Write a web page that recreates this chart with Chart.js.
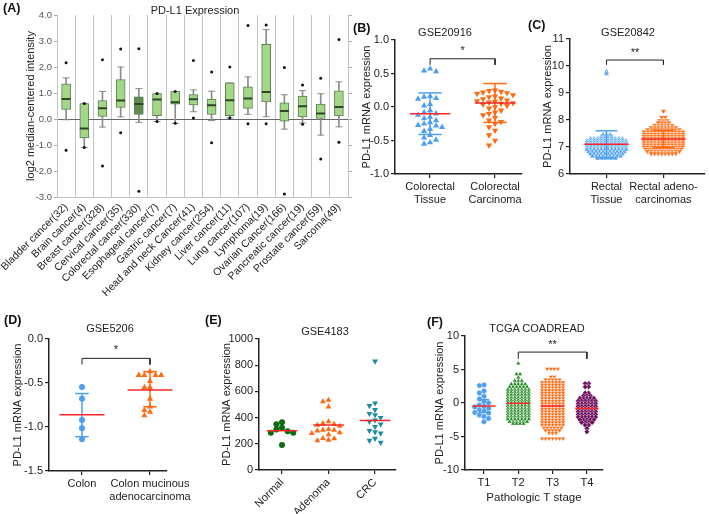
<!DOCTYPE html>
<html>
<head>
<meta charset="utf-8">
<script src="https://cdn.jsdelivr.net/npm/chart.js@4.4.0/dist/chart.umd.min.js"></script>
<style>
  body { margin: 0; background: #fff; font-family: "Liberation Sans", Arial, sans-serif; }
  #fig { position: relative; width: 709px; height: 514px; overflow: hidden; background: #fff; }
  canvas { position: absolute; }
  .lbl { position: absolute; font-size: 12.5px; font-weight: bold; color: #111; transform: translateY(-50%); }
  .ttl { position: absolute; font-size: 11px; color: #222; transform: translate(-50%, -50%); white-space: nowrap; }
</style>
</head>
<body>
<div id="fig"></div>
<script>
// ---- (A) PD-L1 expression box plot ----
const aCats = ['Bladder cancer(32)', 'Brain cancer(4)', 'Breast cancer(328)', 'Cervical cancer(35)',
  'Colorectal cancer(330)', 'Esophageal cancer(7)', 'Gastric cancer(7)', 'Head and neck Cancer(41)',
  'Kidney cancer(254)', 'Liver cancer(11)', 'Lung cancer(107)', 'Lymphoma(19)', 'Ovarian Cancer(166)',
  'Pancreatic cancer(19)', 'Prostate cancer(59)', 'Sarcoma(49)'];
const aWhiskerHi = [1.58, 0.6, 1.06, 2.0, 1.17, 0.98, 1.06, 1.12, 1.07, 1.39, 1.62, 3.44, 0.93, 1.09, 0.97, 1.43];
const aQ3 = [1.35, 0.59, 0.71, 1.52, 0.85, 0.98, 1.06, 0.94, 0.77, 1.39, 1.24, 2.87, 0.62, 0.88, 0.57, 1.08];
const aMedian = [0.77, -0.37, 0.41, 0.71, 0.58, 0.75, 0.64, 0.76, 0.53, 0.72, 0.79, 1.04, 0.31, 0.49, 0.21, 0.46];
const aQ1 = [0.37, -0.73, 0.10, 0.45, 0.18, 0.13, 0.57, 0.54, 0.18, 0.13, 0.41, 0.66, -0.08, 0.08, 0.0, 0.12];
const aWhiskerLo = [-0.03, -1.09, -0.31, 0.08, -0.13, -0.1, -0.17, 0.28, -0.06, 0.04, 0.18, 0.09, -0.39, -0.15, -0.62, -0.30];
const aOutHi = [2.16, 0.6, 2.28, 2.69, 2.70, 0.98, 1.06, 2.25, 1.81, 2.0, 3.6, 3.62, 1.98, 1.31, 1.57, 3.06];
const aOutLo = [-1.2, -1.1, -1.81, -0.53, -2.78, -0.1, -0.16, 0.04, -0.91, 0.04, -0.18, -0.18, -2.88, -0.2, -1.54, -0.89];

// ---- (B) GSE20916 ----
const bTissue = [0.57, 0.54, 0.53, 0.16, 0.15, 0.13, 0.12, 0.04, 0.02, -0.05, -0.08, -0.1, -0.12, -0.15,
  -0.17, -0.2, -0.23, -0.25, -0.27, -0.28, -0.3, -0.33, -0.36, -0.42, -0.46, -0.49, -0.53, -0.55];
const bCarcinoma = [0.25, 0.24, 0.23, 0.22, 0.21, 0.2, 0.18, 0.16, 0.15, 0.13, 0.12, 0.1, 0.09, 0.08, 0.07,
  0.06, 0.05, 0.04, 0.02, 0.0, -0.02, -0.05, -0.08, -0.1, -0.12, -0.16, -0.2, -0.22, -0.25, -0.3, -0.35,
  -0.42, -0.5, -0.57];
const bMeans = [-0.10, 0.06];
const bSdHi = [0.21, 0.35];
const bSdLo = [-0.41, -0.23];
const bBracket = [0.63, 0.72];
const bStarY = 0.84;

// ---- (C) GSE20842 (rows of points: level + count) ----
const cTissueLevels = [9.8, 9.72, 7.45, 7.38, 7.3, 7.22, 7.14, 7.06, 6.98, 6.9, 6.82, 6.74, 6.66, 6.58];
const cTissueCounts = [1, 1, 3, 4, 10, 12, 12, 12, 12, 12, 11, 10, 9, 6];
const cCarcLevels = [8.33, 8.1, 7.98, 7.9, 7.8, 7.72, 7.64, 7.56, 7.48, 7.4, 7.32, 7.24, 7.16, 7.08, 7.0, 6.92, 6.84, 6.76];
const cCarcCounts = [1, 2, 3, 4, 6, 8, 10, 12, 12, 12, 12, 12, 12, 12, 12, 11, 10, 8];
const cMeans = [7.1, 7.3];
const cSdHi = [7.6, 7.62];
const cSdLo = [6.6, 6.98];
const cBracket = [10.04, 10.22];
const cStarY = 10.48;

// ---- (D) GSE5206 ----
const dColon = [-0.545, -0.68, -0.92, -1.015, -1.14];
const dMucinous = [-0.37, -0.41, -0.41, -0.41, -0.41, -0.48, -0.55, -0.55, -0.68, -0.77, -0.81, -0.83, -0.87];
const dMeans = [-0.86, -0.58];
const dSdHi = [-0.62, -0.37];
const dSdLo = [-1.11, -0.77];
const dBracket = [-0.29, -0.22];
const dStarY = -0.12;

// ---- (E) GSE4183 ----
const eNormal = [364, 349, 323, 310, 295, 285, 285, 191];
const eAdenoma = [534, 522, 483, 369, 356, 350, 343, 335, 310, 305, 305, 300, 285, 280, 270, 242, 240, 229, 225];
const eCRC = [830, 510, 490, 460, 430, 420, 400, 380, 370, 350, 330, 300, 290, 280, 240, 225, 210];
const eMeans = [300, 343, 378];

// ---- (F) TCGA COADREAD ----
const fT1 = [2.7, 2.6, 1.8, 1.5, 1.0, 0.6, 0.2, 0.0, -0.3, -0.5, -0.6, -0.8, -1.0, -1.2, -1.4, -1.5, -1.8, -2.0, -2.3, -2.8];
const fT2Levels = [5.9, 4.3, 3.8, 3.3, 2.8, 2.4, 2.0, 1.6, 1.2, 0.8, 0.4, 0.0, -0.4, -0.8, -1.2, -1.6, -2.0, -2.4, -2.8, -3.1];
const fT2Counts = [1, 2, 1, 3, 5, 6, 7, 7, 7, 7, 7, 7, 7, 7, 7, 7, 7, 7, 6, 4];
const fT3Levels = [5.1, 3.9, 3.5, 3.1, 2.7, 2.3, 1.9, 1.5, 1.1, 0.7, 0.3, -0.1, -0.5, -0.9, -1.3, -1.7, -2.1, -2.5, -2.9, -3.3, -3.7, -4.1, -4.5, -5.3];
const fT3Counts = [4, 2, 5, 7, 7, 7, 7, 7, 7, 7, 7, 7, 7, 7, 7, 7, 7, 7, 7, 7, 6, 5, 3, 7];
const fT4Levels = [2.9, 2.4, 1.5, 1.1, 0.7, 0.3, -0.1, -0.5, -0.9, -1.3, -1.7, -2.1, -2.5, -2.9, -3.3, -3.8, -4.3];
const fT4Counts = [2, 2, 2, 3, 5, 6, 6, 6, 6, 6, 6, 6, 5, 4, 2, 1, 1];
const fMeans = [-0.45, -0.05, -0.45, -0.8];
const fT1Sd = [0.5, -1.4];
const fBracket = [6.6, 7.6];
const fStarY = 8.6;

// ---- styling ----
const FONT = '"Liberation Sans", Arial, sans-serif';
const BLUE = '#4d9ff2', ORANGE = '#ff6a12', RED = '#ff2626';
Chart.defaults.font.family = FONT;
Chart.defaults.color = '#222';
Chart.defaults.animation = false;
Chart.defaults.plugins.legend.display = false;
Chart.defaults.plugins.tooltip.enabled = false;

const fig = document.getElementById('fig');

// text drawn at data coordinates (significance stars)
Chart.register({
  id: 'note',
  afterDatasetsDraw(chart, args, opts) {
    if (!opts || !opts.text) return;
    const { ctx, scales } = chart;
    ctx.save();
    ctx.font = '11px ' + FONT;
    ctx.fillStyle = '#222';
    ctx.textAlign = 'center';
    ctx.textBaseline = 'middle';
    ctx.fillText(opts.text, scales.x.getPixelForValue(opts.x), scales.y.getPixelForValue(opts.y));
    ctx.restore();
  }
});

function addText(cls, text, x, y) {
  const d = document.createElement('div');
  d.className = cls;
  d.textContent = text;
  d.style.left = x + 'px';
  d.style.top = y + 'px';
  fig.appendChild(d);
}

function addCanvas(g) {
  const c = document.createElement('canvas');
  c.width = g.w; c.height = g.h;
  c.style.left = g.x + 'px'; c.style.top = g.y + 'px';
  c.style.width = g.w + 'px'; c.style.height = g.h + 'px';
  fig.appendChild(c);
  return c;
}

const fixWidth = w => s => { s.width = w; s.paddingTop = 0; s.paddingBottom = 0; };
const fixHeight = h => s => { s.height = h; s.paddingLeft = 0; s.paddingRight = 0; };

function expand(levels, counts) {
  const out = [];
  levels.forEach((v, i) => { for (let k = 0; k < counts[i]; k++) out.push(v); });
  return out;
}

// simple beeswarm: spread points sideways so markers do not sit on each other
function swarm(values, sepPx, rowTolPx, xppu, yppu, centerRows) {
  const placed = [];
  const sorted = values.slice().sort((a, b) => b - a);
  sorted.forEach(v => {
    const py = v * yppu;
    for (let k = 0; k < 400; k++) {
      const dxPx = (k % 2 ? -1 : 1) * Math.ceil(k / 2) * sepPx;
      const hit = placed.some(p => Math.abs(p.py - py) < rowTolPx && Math.abs(p.dxPx - dxPx) < sepPx * 0.95);
      if (!hit) { placed.push({ v, py, dxPx }); break; }
    }
  });
  if (centerRows) {
    const rows = {};
    placed.forEach(p => { (rows[p.v] = rows[p.v] || []).push(p); });
    Object.values(rows).forEach(r => {
      const m = r.reduce((s, p) => s + p.dxPx, 0) / r.length;
      r.forEach(p => { p.dxPx -= m; });
    });
  }
  return placed.map(p => ({ dx: p.dxPx / xppu, y: p.v }));
}

function seg(points, color, width, order) {
  return {
    type: 'scatter', showLine: true, data: points.map(p => ({ x: p[0], y: p[1] })),
    borderColor: color, borderWidth: width, pointRadius: 0, order: order, clip: false
  };
}

function dotPanel(g, o) {
  const canvas = addCanvas(g);
  const xppu = (g.cr - g.cl) / (o.xMax - o.xMin);
  const yppu = (g.cb - g.ct) / (o.yMax - o.yMin);
  const datasets = [];
  o.groups.forEach((gr, i) => {
    const cx = i + 1;
    const sep = gr.sep || o.sep;
    const rowTol = gr.rowTol || o.rowTol;
    const center = gr.centerRows != null ? gr.centerRows : o.centerRows;
    const pts = swarm(gr.values, sep, rowTol, xppu, yppu, center)
      .map(p => ({ x: cx + p.dx, y: p.y }));
    datasets.push({
      type: 'scatter', data: pts, pointStyle: gr.style, rotation: gr.rot || 0,
      pointRadius: gr.radius || o.radius, backgroundColor: gr.color,
      borderColor: o.pointBorder || gr.color, borderWidth: o.pointBorderWidth || 0,
      order: 3, clip: false
    });
    if (gr.sdHi != null) {
      const w = o.capW;
      datasets.push(seg([[cx, gr.sdLo], [cx, gr.sdHi]], gr.color, 1.5, 2));
      datasets.push(seg([[cx - w, gr.sdHi], [cx + w, gr.sdHi]], gr.color, 1.5, 2));
      datasets.push(seg([[cx - w, gr.sdLo], [cx + w, gr.sdLo]], gr.color, 1.5, 2));
    }
    if (gr.mean != null) {
      datasets.push(seg([[cx - o.meanW, gr.mean], [cx + o.meanW, gr.mean]], RED, 1.5, 1));
    }
  });
  if (o.bracket) {
    const [a, b] = o.bracket.between;
    const [lo, hi] = o.bracket.y;
    datasets.push(seg([[a, lo], [a, hi], [b, hi], [b, lo]], '#222', 1, 0));
  }
  const yTitleFont = 11;
  new Chart(canvas, {
    type: 'scatter',
    data: { datasets },
    options: {
      responsive: false,
      layout: { padding: { left: 0, bottom: 0, top: g.ct - g.y, right: g.x + g.w - g.cr } },
      scales: {
        x: {
          type: 'linear', min: o.xMin, max: o.xMax,
          afterBuildTicks: s => { s.ticks = o.xLabels.map((_, i) => ({ value: i + 1 })); },
          ticks: {
            autoSkip: false, font: { size: 11 }, color: '#222', padding: 2,
            maxRotation: o.xRot || 0, minRotation: o.xRot || 0,
            callback: v => o.xLabels[Math.round(v) - 1]
          },
          grid: { drawOnChartArea: false, drawTicks: true, tickLength: 4, color: '#222', lineWidth: 1.2 },
          border: { display: true, color: '#222', width: 1.5 },
          title: o.xTitle ? {
            display: true, text: o.xTitle, font: { size: 11.5 }, color: '#222',
            padding: { top: 0, bottom: (g.y + g.h) - o.xTitleY - 6.9 }
          } : { display: false },
          afterFit: fixHeight(g.y + g.h - g.cb)
        },
        y: {
          min: o.yMin, max: o.yMax,
          ticks: {
            stepSize: o.yStep, font: { size: 11 }, color: '#222', padding: 2,
            callback: v => v.toFixed(o.dec)
          },
          grid: { drawOnChartArea: false, drawTicks: true, tickLength: 4, color: '#222', lineWidth: 1.2 },
          border: { display: true, color: '#222', width: 1.5 },
          title: {
            display: true, text: 'PD-L1 mRNA expression', font: { size: yTitleFont }, color: '#222',
            padding: { top: o.yTitleX - g.x - yTitleFont * 0.6, bottom: 0 }
          },
          afterFit: fixWidth(g.cl - g.x)
        }
      },
      plugins: { note: o.note }
    }
  });
}

// ---- panel A ----
(function () {
  const g = { x: 0, y: 0, w: 358, h: 322, cl: 57, cr: 348, ct: 15, cb: 197 };
  const canvas = addCanvas(g);
  const boxFill = aCats.map((_, i) => i === 4 ? '#5e8c4e' : '#a2d788');
  new Chart(canvas, {
    type: 'bar',
    data: {
      labels: aCats,
      datasets: [
        { type: 'bar', data: aWhiskerLo.map((v, i) => [v, aWhiskerHi[i]]), backgroundColor: '#8c8c8c',
          barThickness: 1, grouped: false, order: 4 },
        { type: 'bar', data: aQ1.map((v, i) => [v, aQ3[i]]), backgroundColor: boxFill, borderColor: '#5f7f52',
          borderWidth: 1, borderSkipped: false, barThickness: 9, grouped: false, order: 3 },
        { type: 'line', data: aWhiskerHi, showLine: false, pointStyle: 'line', pointRadius: 3.5,
          borderColor: '#8c8c8c', borderWidth: 1, order: 2 },
        { type: 'line', data: aWhiskerLo, showLine: false, pointStyle: 'line', pointRadius: 3.5,
          borderColor: '#8c8c8c', borderWidth: 1, order: 2 },
        { type: 'line', data: aMedian, showLine: false, pointStyle: 'line', pointRadius: 4.5,
          borderColor: '#2c4626', borderWidth: 2, order: 1 },
        { type: 'line', data: aOutHi, showLine: false, pointStyle: 'circle', pointRadius: 1.5,
          backgroundColor: '#111', borderWidth: 0, order: 0 },
        { type: 'line', data: aOutLo, showLine: false, pointStyle: 'circle', pointRadius: 1.5,
          backgroundColor: '#111', borderWidth: 0, order: 0 }
      ]
    },
    options: {
      responsive: false,
      layout: { padding: { left: 0, bottom: 0, top: g.ct - g.y, right: g.x + g.w - g.cr - 8 } },
      scales: {
        x: {
          offset: true,
          grid: { offset: true, color: '#c4c4c4', drawTicks: false },
          border: { color: '#c4c4c4' },
          ticks: { autoSkip: false, maxRotation: 45, minRotation: 45, font: { size: 10.5 }, color: '#222', padding: 4 },
          afterFit: fixHeight(g.y + g.h - g.cb)
        },
        y: {
          min: -3, max: 4,
          ticks: { stepSize: 0.5, font: { size: 9.5 }, color: '#555', padding: 2, callback: v => v.toFixed(1) },
          grid: {
            color: c => (c.tick && Math.abs(c.tick.value) < 1e-9) ? '#666' : 'rgba(0,0,0,0)',
            tickColor: '#aaa', tickLength: 3
          },
          border: { color: '#c4c4c4' },
          title: { display: true, text: 'log2 median-centered intensity', font: { size: 11 }, color: '#222',
            padding: { top: 31 - g.x - 6.6, bottom: 0 } },
          afterFit: fixWidth(g.cl - g.x)
        },
        y2: {
          position: 'right', min: -3, max: 4,
          ticks: { stepSize: 0.5, callback: () => '' },
          grid: { drawOnChartArea: false, tickLength: 4, color: '#aaa' },
          border: { color: '#c4c4c4' },
          afterFit: fixWidth(8)
        }
      }
    }
  });
})();

// ---- panel B ----
dotPanel({ x: 354, y: 20, w: 176, h: 200, cl: 395, cr: 522, ct: 40, cb: 174 }, {
  xMin: 0.46, xMax: 2.415, yMin: -1, yMax: 1, yStep: 0.5, dec: 1, yTitleX: 367,
  xLabels: [['Colorectal', 'Tissue'], ['Colorectal', 'Carcinoma']],
  sep: 6, rowTol: 5, radius: 3.6, meanW: 0.31, capW: 0.18,
  groups: [
    { values: bTissue, color: BLUE, style: 'triangle', mean: bMeans[0], sdHi: bSdHi[0], sdLo: bSdLo[0] },
    { values: bCarcinoma, color: ORANGE, style: 'triangle', rot: 180, mean: bMeans[1], sdHi: bSdHi[1], sdLo: bSdLo[1] }
  ],
  bracket: { between: [1, 2], y: bBracket },
  note: { text: '*', x: 1.5, y: bStarY }
});

// ---- panel C ----
dotPanel({ x: 534, y: 20, w: 175, h: 200, cl: 570, cr: 707, ct: 39, cb: 174 }, {
  xMin: 0.36, xMax: 2.72, yMin: 6, yMax: 11, yStep: 1, dec: 0, yTitleX: 548,
  xLabels: [['Rectal', 'Tissue'], ['Rectal adeno-', 'carcinomas']],
  sep: 3.6, rowTol: 1, centerRows: true, radius: 3.2, meanW: 0.39, capW: 0.19,
  pointBorder: '#fff', pointBorderWidth: 0.5,
  groups: [
    { values: expand(cTissueLevels, cTissueCounts), color: BLUE, style: 'triangle', mean: cMeans[0], sdHi: cSdHi[0], sdLo: cSdLo[0] },
    { values: expand(cCarcLevels, cCarcCounts), color: ORANGE, style: 'triangle', rot: 180, mean: cMeans[1], sdHi: cSdHi[1], sdLo: cSdLo[1] }
  ],
  bracket: { between: [1, 2], y: cBracket },
  note: { text: '**', x: 1.5, y: cStarY }
});

// ---- panel D ----
dotPanel({ x: 6, y: 325, w: 194, h: 185, cl: 49, cr: 167, ct: 339, cb: 471 }, {
  xMin: 0.515, xMax: 2.25, yMin: -1.5, yMax: 0, yStep: 0.5, dec: 1, yTitleX: 18,
  xLabels: [['Colon'], ['Colon mucinous', 'adenocarcinoma']],
  sep: 5.6, rowTol: 5, radius: 3.2, meanW: 0.33, capW: 0.1,
  groups: [
    { values: dColon, color: BLUE, style: 'circle', radius: 3, mean: dMeans[0], sdHi: dSdHi[0], sdLo: dSdLo[0] },
    { values: dMucinous, color: ORANGE, style: 'triangle', radius: 3.6, mean: dMeans[1], sdHi: dSdHi[1], sdLo: dSdLo[1] }
  ],
  bracket: { between: [1, 2], y: dBracket },
  note: { text: '*', x: 1.5, y: dStarY }
});

// ---- panel E ----
dotPanel({ x: 214, y: 325, w: 186, h: 189, cl: 259, cr: 396, ct: 339, cb: 470 }, {
  xMin: 0.505, xMax: 3.45, yMin: 0, yMax: 1000, yStep: 200, dec: 0, yTitleX: 227,
  xLabels: ['Normal', 'Adenoma', 'CRC'], xRot: 45,
  sep: 5.6, rowTol: 5, radius: 3.4, meanW: 0.33,
  groups: [
    { values: eNormal, color: '#0d6a10', style: 'circle', radius: 3, mean: eMeans[0] },
    { values: eAdenoma, color: ORANGE, style: 'triangle', mean: eMeans[1] },
    { values: eCRC, color: '#1b8aa5', style: 'triangle', rot: 180, mean: eMeans[2] }
  ]
});

// ---- panel F ----
dotPanel({ x: 428, y: 325, w: 190, h: 189, cl: 465, cr: 603, ct: 336, cb: 470 }, {
  xMin: 0.446, xMax: 4.47, yMin: -10, yMax: 10, yStep: 5, dec: 0, yTitleX: 440,
  xLabels: ['T1', 'T2', 'T3', 'T4'], xTitle: 'Pathologic T stage', xTitleY: 498,
  sep: 3.5, rowTol: 1, centerRows: true, radius: 2.7, meanW: 0.34, capW: 0.15,
  pointBorder: '#fff', pointBorderWidth: 0.4,
  groups: [
    { values: fT1, color: BLUE, style: 'circle', sep: 4.6, rowTol: 4.2, centerRows: false,
      mean: fMeans[0], sdHi: fT1Sd[0], sdLo: fT1Sd[1] },
    { values: expand(fT2Levels, fT2Counts), color: '#1f8a1f', style: 'triangle', mean: fMeans[1] },
    { values: expand(fT3Levels, fT3Counts), color: ORANGE, style: 'triangle', rot: 180, mean: fMeans[2] },
    { values: expand(fT4Levels, fT4Counts), color: '#6a0c5c', style: 'rectRot', mean: fMeans[3] }
  ],
  bracket: { between: [2, 4], y: fBracket },
  note: { text: '**', x: 3, y: fStarY }
});

// ---- panel letters and titles ----
addText('lbl', '(A)', 3, 8);
addText('ttl', 'PD-L1 Expression', 195, 10);
addText('lbl', '(B)', 353, 28);
addText('ttl', 'GSE20916', 445, 32);
addText('lbl', '(C)', 528, 25);
addText('ttl', 'GSE20842', 628, 32);
addText('lbl', '(D)', 4, 320);
addText('ttl', 'GSE5206', 110, 328);
addText('lbl', '(E)', 205, 320);
addText('ttl', 'GSE4183', 325, 331);
addText('lbl', '(F)', 427, 322);
addText('ttl', 'TCGA COADREAD', 537, 328);
</script>
</body>
</html>
